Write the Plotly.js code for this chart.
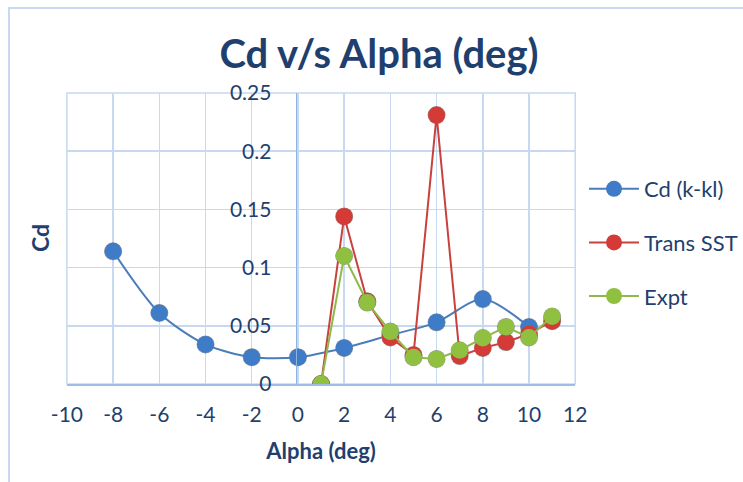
<!DOCTYPE html>
<html>
<head>
<meta charset="utf-8">
<script src="https://cdn.plot.ly/plotly-3.0.1.min.js"></script>
<style>html,body{margin:0;padding:0;background:#fff;}#chart{width:743px;height:482px;}</style>
</head>
<body>
<div id="chart"></div>
<script>
// Data
const alphaKkl = [-8, -6, -4, -2, 0, 2, 4, 6, 8, 10];
const cdKkl    = [0.114, 0.061, 0.034, 0.023, 0.023, 0.031, 0.042, 0.053, 0.073, 0.049];
const alphaSst = [1, 2, 3, 4, 5, 6, 7, 8, 9, 10, 11];
const cdSst    = [0.0, 0.144, 0.071, 0.040, 0.025, 0.231, 0.024, 0.031, 0.036, 0.043, 0.054];
const alphaExp = [1, 2, 3, 4, 5, 6, 7, 8, 9, 10, 11];
const cdExp    = [0.0, 0.110, 0.070, 0.045, 0.023, 0.0215, 0.029, 0.0395, 0.049, 0.040, 0.058];
const xTicks = [-10, -8, -6, -4, -2, 0, 2, 4, 6, 8, 10, 12];
const yTicks = [0, 0.05, 0.1, 0.15, 0.2, 0.25];
const yTickText = ['0', '0.05', '0.1', '0.15', '0.2', '0.25'];

const W = 743, H = 482;
const L = 64, R = 573, T = 90, B = 381;
const sh = 3; // shadow offset px
const navy = '#1f3f6e';
const font = 'Lato, "Open Sans", sans-serif';

const cols = {
  blueL: '#4a7ebb', blueM: '#3f7cc8',
  redL: '#c9413d', redM: '#d43a36',
  greenL: '#8fb94b', greenM: '#8fc040'
};

function shadow(x, y) {
  return {x: x, y: y, xaxis: 'x', yaxis: 'y', mode: 'markers', showlegend: false, hoverinfo: 'skip',
    marker: {size: 18, color: 'rgba(40,40,40,0.45)'}};
}

const data = [
  shadow(alphaKkl, cdKkl), shadow(alphaSst, cdSst), shadow(alphaExp, cdExp),
  {x: alphaKkl, y: cdKkl, name: 'Cd (k-kl)', legendgroup: 'a', xaxis: 'x2', yaxis: 'y2', mode: 'lines+markers',
   line: {color: cols.blueL, width: 2, shape: 'spline', smoothing: 0.8}, marker: {size: 17, color: cols.blueM}},
  {x: alphaSst, y: cdSst, name: 'Trans SST', legendgroup: 'b', xaxis: 'x2', yaxis: 'y2', mode: 'lines+markers',
   line: {color: cols.redL, width: 2}, marker: {size: 17, color: cols.redM}},
  {x: alphaExp, y: cdExp, name: 'Expt', legendgroup: 'c', xaxis: 'x2', yaxis: 'y2', mode: 'lines+markers',
   line: {color: cols.greenL, width: 2}, marker: {size: 17, color: cols.greenM}}
];

const layout = {
  width: W, height: H,
  margin: {l: 0, r: 0, t: 0, b: 0},
  paper_bgcolor: '#fff', plot_bgcolor: 'rgba(0,0,0,0)',
  showlegend: true,
  font: {family: font, color: navy, size: 21},
  title: {text: '<b>Cd v/s Alpha (deg)</b>', x: 379 / W, xanchor: 'center', y: 1 - 54 / H, yanchor: 'middle',
          font: {family: font, size: 40, color: navy}},
  xaxis: {domain: [(L + sh) / W, (R + sh) / W], range: [-10, 12], visible: false, fixedrange: true},
  yaxis: {domain: [(H - B - sh) / H, (H - T - sh) / H], range: [0, 0.25], visible: false, fixedrange: true},
  xaxis2: {domain: [L / W, R / W], range: [-10, 12], anchor: 'y2', overlaying: 'x',
           tickvals: xTicks, ticktext: xTicks.map(String), showgrid: true, gridcolor: '#c6d9f0', gridwidth: 1.5,
           zeroline: false, showline: true, linecolor: '#9dbde6', linewidth: 1.5,
           ticks: '', ticklabelstandoff: 11, tickfont: {size: 21, color: navy, family: font},
           title: {text: '<b>Alpha (deg)</b>', font: {size: 22, color: navy, family: font}, standoff: 19}},
  yaxis2: {domain: [(H - B) / H, (H - T) / H], range: [0, 0.25], anchor: 'free', position: 296 / W, overlaying: 'y',
           tickvals: yTicks, ticktext: yTickText, showgrid: true, gridcolor: '#c6d9f0', gridwidth: 1.5,
           zeroline: false, showline: true, linecolor: '#8fb3e0', linewidth: 1.5,
           ticks: '', ticklabelstandoff: 20, tickfont: {size: 21, color: navy, family: font}},
  legend: {x: 585 / W, y: 1 - 168 / H, xanchor: 'left', yanchor: 'top', traceorder: 'grouped', tracegroupgap: 22,
           itemwidth: 50, font: {size: 22, color: navy, family: font}, bgcolor: 'rgba(0,0,0,0)'},
  annotations: [
    {text: '<b>Cd</b>', xref: 'paper', yref: 'paper', x: 40 / W, y: 1 - 238 / H, textangle: -90, showarrow: false,
     font: {size: 23, color: navy, family: font}, xanchor: 'center', yanchor: 'middle'}
  ],
  shapes: [
    {type: 'rect', xref: 'paper', yref: 'paper', x0: 9 / W, x1: 1.02, y0: -0.02, y1: 1 - 8 / H,
     line: {color: '#c6d9f0', width: 2}, fillcolor: 'rgba(0,0,0,0)', layer: 'below'},
    {type: 'rect', xref: 'x2 domain', yref: 'y2 domain', x0: 0, x1: 1, y0: 0, y1: 1,
     line: {color: '#c6d9f0', width: 1.5}, fillcolor: 'rgba(0,0,0,0)', layer: 'below'}
  ]
};

Plotly.newPlot('chart', data, layout, {displayModeBar: false, staticPlot: true});
</script>
</body>
</html>
